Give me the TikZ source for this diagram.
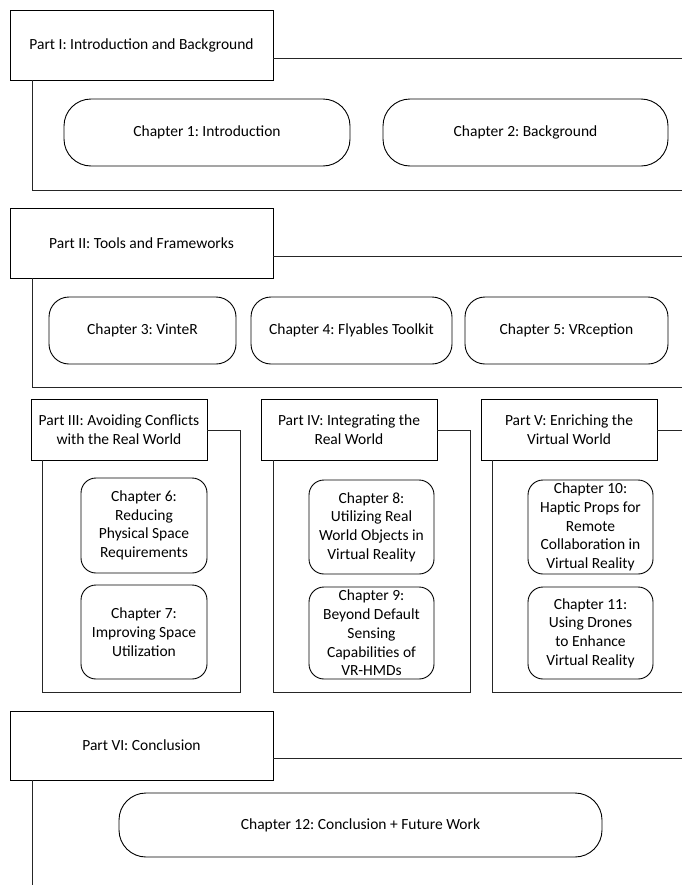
\documentclass[tikz,border=0pt]{standalone}
\usepackage{fontspec}
\setmainfont{Carlito}
\frenchspacing
\begin{document}
\begin{tikzpicture}[x=1pt,y=-1pt,
  txt/.style={font=\fontsize{15.5}{18.7}\selectfont, align=center, inner sep=0pt, text=black},
  partbox/.style={txt, draw=black, line width=0.9pt, fill=white},
  chap/.style={txt, draw=black, line width=0.9pt},
  frame/.style={draw=black!85, line width=0.9pt}]
\useasboundingbox (0,0) rectangle (682,886);

% ---------- Part I ----------
\node[partbox, minimum width=263pt, minimum height=70pt] (p1) at (141.5,45) {Part I: Introduction and Background};
\coordinate (e1) at (682,58);
\coordinate (b1) at (32,190);
\coordinate (b1r) at (682,190);
\draw[frame] (p1.east |- e1) -- (e1);
\draw[frame] (p1.south -| b1) -- (b1) -- (b1r);
\node[chap, minimum width=286pt, minimum height=67pt, rounded corners=27pt] (c1) at (207,132.5) {Chapter 1: Introduction};
\node[chap, minimum width=285pt, minimum height=67pt, rounded corners=27pt] (c2) at (525.5,132.5) {Chapter 2: Background};

% ---------- Part II ----------
\node[partbox, minimum width=263pt, minimum height=70pt] (p2) at (141.5,243) {Part II: Tools and Frameworks};
\coordinate (e2) at (682,256);
\coordinate (b2) at (32,387);
\coordinate (b2r) at (682,387);
\draw[frame] (p2.east |- e2) -- (e2);
\draw[frame] (p2.south -| b2) -- (b2) -- (b2r);
\node[chap, minimum width=187pt, minimum height=67pt, rounded corners=20pt] (c3) at (142.5,330.5) {Chapter 3: VinteR};
\node[chap, minimum width=201pt, minimum height=67pt, rounded corners=20pt] (c4) at (351.5,330.5) {Chapter 4: Flyables Toolkit};
\node[chap, minimum width=203pt, minimum height=67pt, rounded corners=20pt] (c5) at (566.5,330.5) {Chapter 5: VRception};

% ---------- Part III ----------
\node[partbox, minimum width=176pt, minimum height=61pt] (p3) at (119,429.5) {Part III: Avoiding Conflicts\\with the Real World};
\coordinate (t3) at (240,430);
\coordinate (r3) at (240,692);
\coordinate (l3) at (42,692);
\draw[frame] (p3.east |- t3) -- (t3) -- (r3) -- (l3) -- (p3.south -| l3);
\node[chap, minimum width=126pt, minimum height=95pt, rounded corners=15pt] (c6) at (144,525.5) {Chapter 6:\\Reducing\\Physical Space\\Requirements};
\node[chap, minimum width=126pt, minimum height=94pt, rounded corners=15pt] (c7) at (144,632) {Chapter 7:\\Improving Space\\Utilization};

% ---------- Part IV ----------
\node[partbox, minimum width=176pt, minimum height=61pt] (p4) at (349,429.5) {Part IV: Integrating the\\Real World};
\coordinate (t4) at (470,430);
\coordinate (r4) at (470,692);
\coordinate (l4) at (273,692);
\draw[frame] (p4.east |- t4) -- (t4) -- (r4) -- (l4) -- (p4.south -| l4);
\node[chap, minimum width=125pt, minimum height=94pt, rounded corners=15pt] (c8) at (371.5,527) {Chapter 8:\\Utilizing Real\\World Objects in\\Virtual Reality};
\node[chap, minimum width=125pt, minimum height=92pt, rounded corners=15pt] (c9) at (371.5,633) {Chapter 9:\\Beyond Default\\Sensing\\Capabilities of\\VR-HMDs};

% ---------- Part V ----------
\node[partbox, minimum width=176pt, minimum height=61pt] (p5) at (569,429.5) {Part V: Enriching the\\Virtual World};
\coordinate (t5) at (682,430);
\coordinate (l5) at (492,692);
\coordinate (r5) at (682,692);
\draw[frame] (p5.east |- t5) -- (t5);
\draw[frame] (p5.south -| l5) -- (l5) -- (r5);
\node[chap, minimum width=125pt, minimum height=94pt, rounded corners=15pt] (c10) at (590.5,527) {Chapter 10:\\Haptic Props for\\Remote\\Collaboration in\\Virtual Reality};
\node[chap, minimum width=125pt, minimum height=92pt, rounded corners=15pt] (c11) at (590.5,633) {Chapter 11:\\Using Drones\\to Enhance\\Virtual Reality};

% ---------- Part VI ----------
\node[partbox, minimum width=263pt, minimum height=69pt] (p6) at (141.5,745.5) {Part VI: Conclusion};
\coordinate (e6) at (682,758);
\coordinate (b6) at (32,885);
\draw[frame] (p6.east |- e6) -- (e6);
\draw[frame] (p6.south -| b6) -- (b6);
\node[chap, minimum width=483pt, minimum height=64pt, rounded corners=27pt] (c12) at (360.5,825) {Chapter 12: Conclusion + Future Work};
\end{tikzpicture}
\end{document}
